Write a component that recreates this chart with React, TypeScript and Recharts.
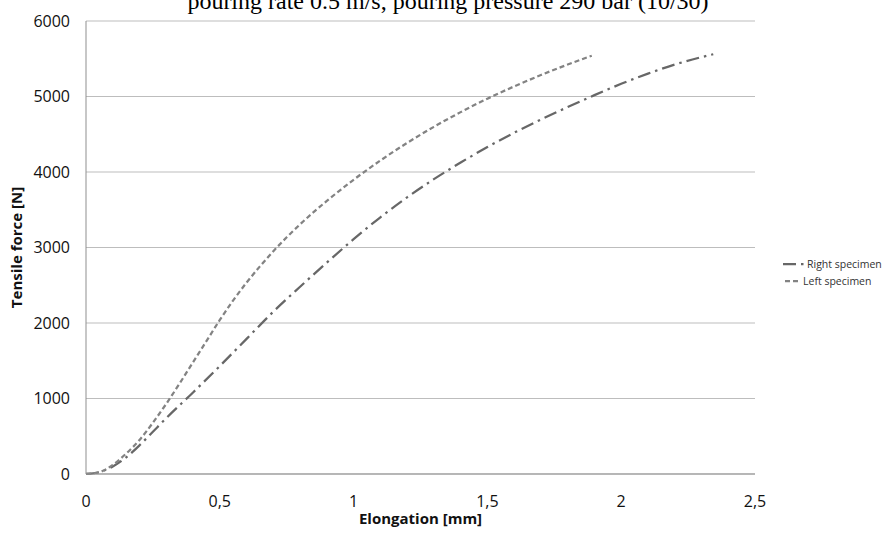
import React from 'react';
import { LineChart, Line, XAxis, YAxis, CartesianGrid, Label } from 'recharts';

// values
const leftElongation = [0, 0.05, 0.1, 0.15, 0.2, 0.25, 0.3, 0.35, 0.4, 0.45, 0.5, 0.55, 0.6, 0.65, 0.7, 0.75, 0.8, 0.9, 1.0, 1.1, 1.2, 1.3, 1.4, 1.5, 1.6, 1.7, 1.8, 1.89];
const leftForce = [0, 25, 120, 270, 450, 680, 930, 1200, 1480, 1760, 2040, 2300, 2535, 2750, 2950, 3135, 3307, 3617, 3897, 4152, 4385, 4598, 4793, 4971, 5134, 5284, 5423, 5540];

const rightElongation = [0, 0.05, 0.1, 0.15, 0.2, 0.25, 0.3, 0.4, 0.5, 0.6, 0.7, 0.8, 0.9, 1.0, 1.1, 1.2, 1.3, 1.4, 1.5, 1.6, 1.7, 1.8, 1.9, 2.0, 2.1, 2.2, 2.344];
const rightForce = [0, 25, 100, 220, 380, 560, 740, 1080, 1430, 1790, 2150, 2480, 2800, 3110, 3400, 3665, 3905, 4125, 4330, 4520, 4695, 4860, 5018, 5168, 5303, 5423, 5560];

const xTicks = [0, 0.5, 1, 1.5, 2, 2.5];
const yTicks = [0, 1000, 2000, 3000, 4000, 5000, 6000];

const chartTitle = 'pouring rate 0.5 m/s, pouring pressure 290 bar (10/30)';
const xTitle = 'Elongation [mm]';
const yTitle = 'Tensile force [N]';

const rightName = 'Right specimen';
const leftName = 'Left specimen';

const rightData = rightElongation.map((x, i) => ({ x, y: rightForce[i] }));
const leftData = leftElongation.map((x, i) => ({ x, y: leftForce[i] }));

const FONT = '"Open Sans", sans-serif';
const RIGHT_COLOR = '#676767';
const LEFT_COLOR = '#838383';
const RIGHT_DASH = '13 5 2.5 5';
const LEFT_DASH = '5 3';

const tickStyle = { fontFamily: FONT, fontSize: 16, fill: '#111' };

const XTitle = ({ viewBox }: any) => (
  <text
    x={viewBox.x + viewBox.width / 2}
    y={viewBox.y + 50}
    textAnchor="middle"
    style={{ fontFamily: FONT, fontSize: 15, fontWeight: 700, fill: '#111' }}
  >
    {xTitle}
  </text>
);

const YTitle = ({ viewBox }: any) => {
  const cx = 22;
  const cy = viewBox.y + viewBox.height / 2;
  return (
    <text
      x={cx}
      y={cy}
      transform={`rotate(-90, ${cx}, ${cy})`}
      textAnchor="middle"
      style={{ fontFamily: FONT, fontSize: 15, fontWeight: 700, fill: '#111' }}
    >
      {yTitle}
    </text>
  );
};

const fmt = (v: number) => String(v).replace('.', ',');

export default function App() {
  return (
    <div style={{ position: 'absolute', left: 0, top: 0, width: 893, height: 534, background: '#fff', overflow: 'hidden' }}>
      <LineChart width={893} height={534} margin={{ top: 21, right: 138, bottom: 0, left: 0 }}>
        <CartesianGrid vertical={false} stroke="#bdbdbd" strokeWidth={1} />
        <XAxis
          type="number"
          dataKey="x"
          domain={[0, 2.5]}
          ticks={xTicks}
          tickFormatter={fmt}
          height={60}
          tickLine={false}
          tickSize={0}
          tickMargin={22}
          axisLine={{ stroke: '#8f8f8f' }}
          tick={tickStyle}
          allowDataOverflow
        >
          <Label content={XTitle} />
        </XAxis>
        <YAxis
          type="number"
          dataKey="y"
          domain={[0, 6000]}
          ticks={yTicks}
          width={86}
          tickLine={false}
          tickSize={0}
          tickMargin={16}
          axisLine={{ stroke: '#8f8f8f' }}
          tick={tickStyle}
        >
          <Label content={YTitle} />
        </YAxis>
        <Line
          data={rightData}
          dataKey="y"
          name={rightName}
          type="monotone"
          stroke={RIGHT_COLOR}
          strokeWidth={2.25}
          strokeDasharray={RIGHT_DASH}
          dot={false}
          activeDot={false}
          isAnimationActive={false}
        />
        <Line
          data={leftData}
          dataKey="y"
          name={leftName}
          type="monotone"
          stroke={LEFT_COLOR}
          strokeWidth={2.25}
          strokeDasharray={LEFT_DASH}
          dot={false}
          activeDot={false}
          isAnimationActive={false}
        />
      </LineChart>

      <svg width={893} height={534} style={{ position: 'absolute', left: 0, top: 0, pointerEvents: 'none' }}>
        <text
          x={448}
          y={8.5}
          textAnchor="middle"
          style={{ fontFamily: '"Liberation Serif", "Times New Roman", serif', fontSize: 24, fill: '#000' }}
        >
          {chartTitle}
        </text>
        <line x1={783} x2={804} y1={264} y2={264} stroke={RIGHT_COLOR} strokeWidth={2.25} strokeDasharray={RIGHT_DASH} />
        <text x={807} y={267.8} style={{ fontFamily: FONT, fontSize: 10.5, fill: '#333' }}>
          {rightName}
        </text>
        <line x1={785} x2={799} y1={281} y2={281} stroke={LEFT_COLOR} strokeWidth={2.25} strokeDasharray={LEFT_DASH} />
        <text x={803} y={284.8} style={{ fontFamily: FONT, fontSize: 10.5, fill: '#333' }}>
          {leftName}
        </text>
      </svg>
    </div>
  );
}
